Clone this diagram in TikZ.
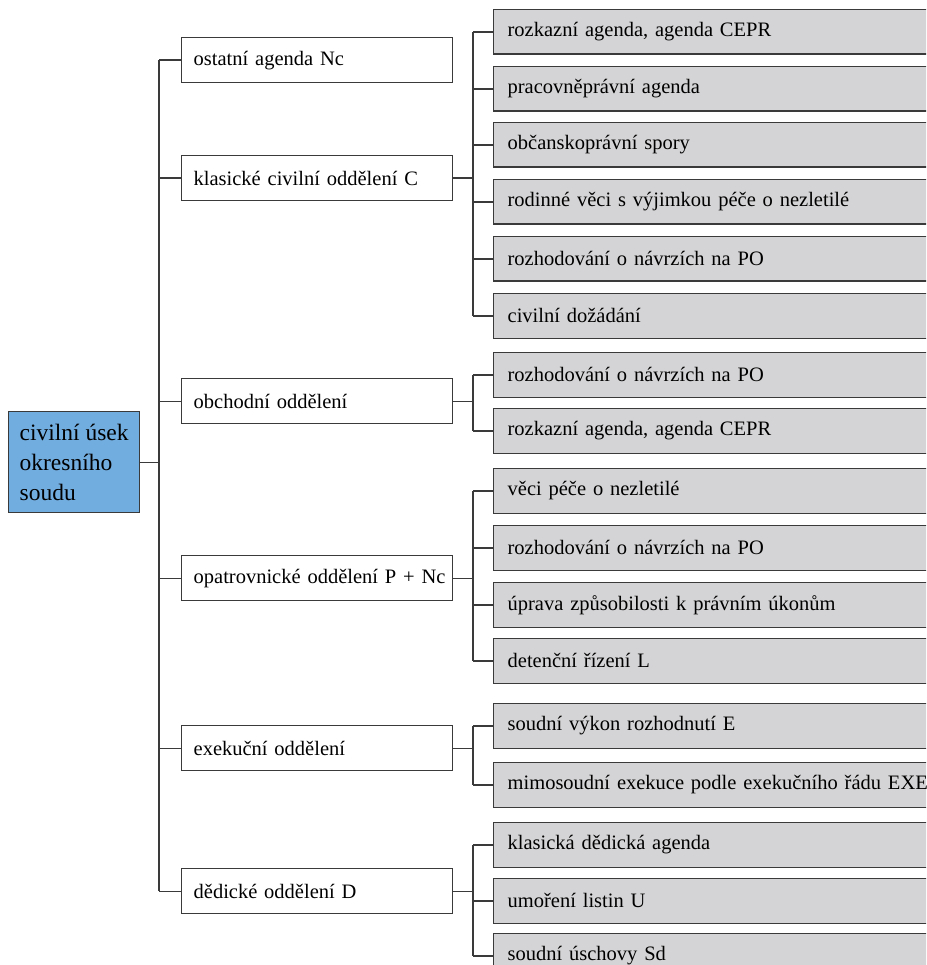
\documentclass[tikz,border=0pt]{standalone}
\usepackage{fontspec}
\setmainfont{Liberation Serif}
\definecolor{linec}{HTML}{3A3A3A}
\definecolor{rootblue}{HTML}{72ADE0}
\definecolor{boxgray}{HTML}{D4D4D6}
\tikzset{
  conn/.style={draw=linec, line width=1.3pt},
  rootbox/.style={draw=linec, line width=1.3pt, fill=rootblue, anchor=north west,
    minimum width=131pt, minimum height=101pt, inner xsep=0pt, align=left,
    font=\fontsize{23.5}{30}\selectfont},
  lone/.style={draw=linec, line width=1.3pt, fill=white, anchor=north west,
    minimum height=45pt, inner xsep=12pt, text width=247pt, align=left,
    font=\fontsize{20.5}{24}\selectfont},
  ltwo/.style={draw=linec, line width=1.3pt, fill=boxgray, anchor=north west,
    minimum height=44.5pt, inner xsep=14pt, text width=442pt, align=left,
    font=\fontsize{20.5}{24}\selectfont}
}
\begin{document}
\begin{tikzpicture}[x=1pt,y=-1pt]
\useasboundingbox (0,0) rectangle (926,965);
\clip (0,0) rectangle (926,965);
% root
\node[rootbox] (root) at (8,411) {civilní úsek\\okresního\\soudu};
% level 1
\node[lone] (l1a) at (181,37)  {\mbox{ostatní agenda Nc}};
\node[lone] (l1b) at (181,155) {\mbox{klasické civilní oddělení C}};
\node[lone] (l1c) at (181,378) {\mbox{obchodní oddělení}};
\node[lone] (l1d) at (181,555) {\mbox{opatrovnické oddělení P + Nc}};
\node[lone] (l1e) at (181,725) {\mbox{exekuční oddělení}};
\node[lone] (l1f) at (181,868) {\mbox{dědické oddělení D}};
% level 2
\node[ltwo] (c1) at (493,9)   {rozkazní agenda, agenda CEPR};
\node[ltwo] (c2) at (493,66)  {pracovněprávní agenda};
\node[ltwo] (c3) at (493,122) {občanskoprávní spory};
\node[ltwo] (c4) at (493,179) {rodinné věci s výjimkou péče o nezletilé};
\node[ltwo] (c5) at (493,236) {rozhodování o návrzích na PO};
\node[ltwo] (c6) at (493,293) {civilní dožádání};
\node[ltwo] (o1) at (493,352) {rozhodování o návrzích na PO};
\node[ltwo] (o2) at (493,408) {rozkazní agenda, agenda CEPR};
\node[ltwo] (p1) at (493,468) {věci péče o nezletilé};
\node[ltwo] (p2) at (493,525) {rozhodování o návrzích na PO};
\node[ltwo] (p3) at (493,582) {úprava způsobilosti k právním úkonům};
\node[ltwo] (p4) at (493,638) {detenční řízení L};
\node[ltwo] (e1) at (493,703) {soudní výkon rozhodnutí E};
\node[ltwo] (e2) at (493,762) {mimosoudní exekuce podle exekučního řádu EXE};
\node[ltwo] (d1) at (493,822) {klasická dědická agenda};
\node[ltwo] (d2) at (493,878) {umoření listin U};
\node[ltwo] (d3) at (493,933) {soudní úschovy Sd};
% trunk
\draw[conn] (root.east) -- ++(20,0);
\draw[conn] ([xshift=-22pt]l1a.west) -- ([xshift=-22pt]l1f.west);
\foreach \n in {l1a,l1b,l1c,l1d,l1e,l1f} \draw[conn] (\n.west) -- ++(-22,0);
% groups
\draw[conn] (l1b.east) -- ++(21,0);
\draw[conn] ([xshift=-20pt]c1.west) -- ([xshift=-20pt]c6.west);
\foreach \n in {c1,c2,c3,c4,c5,c6} \draw[conn] (\n.west) -- ++(-20,0);
\draw[conn] (l1c.east) -- ++(21,0);
\draw[conn] ([xshift=-20pt]o1.west) -- ([xshift=-20pt]o2.west);
\foreach \n in {o1,o2} \draw[conn] (\n.west) -- ++(-20,0);
\draw[conn] (l1d.east) -- ++(21,0);
\draw[conn] ([xshift=-20pt]p1.west) -- ([xshift=-20pt]p4.west);
\foreach \n in {p1,p2,p3,p4} \draw[conn] (\n.west) -- ++(-20,0);
\draw[conn] (l1e.east) -- ++(21,0);
\draw[conn] ([xshift=-20pt]e1.west) -- ([xshift=-20pt]e2.west);
\foreach \n in {e1,e2} \draw[conn] (\n.west) -- ++(-20,0);
\draw[conn] (l1f.east) -- ++(21,0);
\draw[conn] ([xshift=-20pt]d1.west) -- ([xshift=-20pt]d3.west);
\foreach \n in {d1,d2,d3} \draw[conn] (\n.west) -- ++(-20,0);
\end{tikzpicture}
\end{document}
